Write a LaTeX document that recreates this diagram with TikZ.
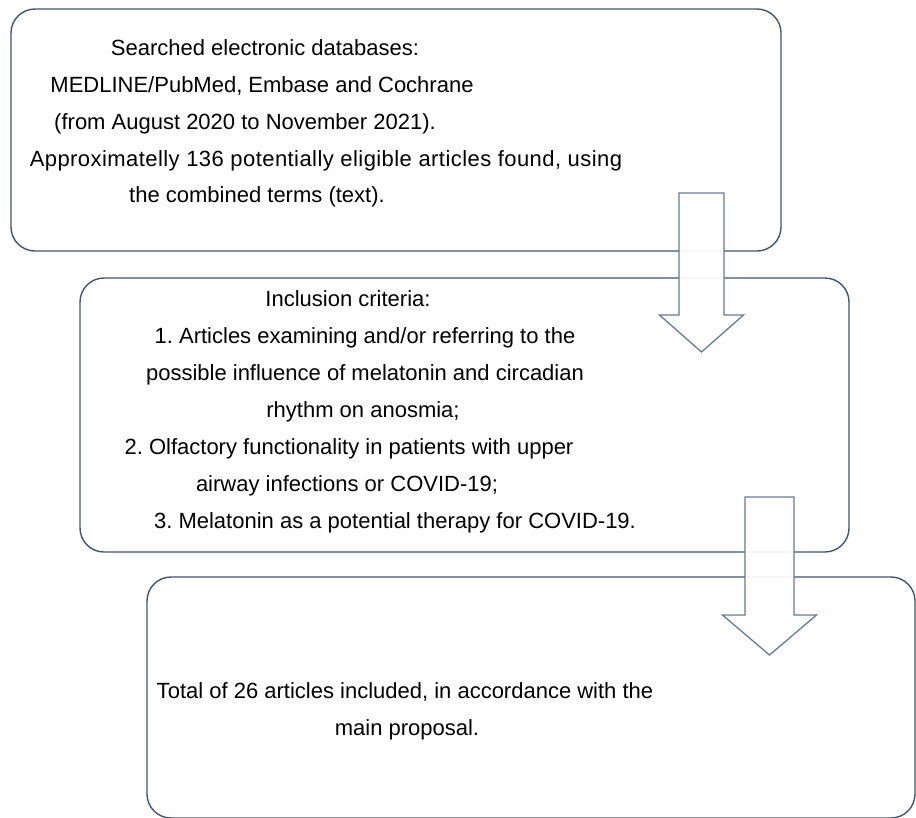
\documentclass[tikz,border=0pt]{standalone}
\usepackage{fontspec}
\setmainfont{Liberation Sans}
\definecolor{boxline}{HTML}{44546A}
\definecolor{arrowline}{HTML}{6B7A90}
\begin{document}
\begin{tikzpicture}
[x=1pt, y=-1pt,
% STYLES
% The box style is used for the three stages
box/.style={draw=boxline, line width=1.4pt, rounded corners=24pt, inner sep=0pt},
% one printed line of text
txt/.style={font=\fontsize{22}{26}\selectfont\frenchspacing, anchor=base, inner sep=0pt},
blockarrow/.style={draw=arrowline, line width=1.3pt, fill=white, fill opacity=0.92}]

\useasboundingbox (0,0) rectangle (916,817);

% Draw stages
\node [box, minimum width=770pt, minimum height=242pt] (search) at (396,130) {};
\node [box, minimum width=769pt, minimum height=274pt] (criteria) at (464.5,415) {};
\node [box, minimum width=768pt, minimum height=241pt] (total) at (531,697.5) {};

% Draw block arrows between the stages
\foreach \cx/\ytop/\yneck/\ytip/\sw/\hw in {701.5/193/315/352/22.5/42, 769.5/497/615/655/24.5/47}
  \draw [blockarrow] (\cx-\sw,\ytop) -- (\cx+\sw,\ytop) -- (\cx+\sw,\yneck) -- (\cx+\hw,\yneck)
    -- (\cx,\ytip) -- (\cx-\hw,\yneck) -- (\cx-\sw,\yneck) -- cycle;

% Text of the stages
\foreach \x/\y/\t [count=\i] in {
  265/55/{Searched electronic databases:},
  262/92/{MEDLINE/PubMed, Embase and Cochrane},
  245/129/{(from August 2020 to November 2021).}}
  \node [txt] (s\i) at (\x,\y) {\t};

\node [txt, font=\fontsize{22}{26}\selectfont\addfontfeature{LetterSpace=2}] (s4) at (326,166)
  {Approximatelly 136 potentially eligible articles found, using};
\node [txt] (s5) at (257,202) {the combined terms (text).};

\foreach \x/\y/\t [count=\i] in {
  348/306/{Inclusion criteria:},
  365/343/{1. Articles examining and/or referring to the},
  365/380/{possible influence of melatonin and circadian},
  363/417/{rhythm on anosmia;},
  349/454/{2. Olfactory functionality in patients with upper},
  347/491/{airway infections or COVID-19;},
  395/528/{3. Melatonin as a potential therapy for COVID-19.}}
  \node [txt] (c\i) at (\x,\y) {\t};

\node [txt] (t1) at (405,698) {Total of 26 articles included, in accordance with the};
\node [txt] (t2) at (407,735) {main proposal.};

\end{tikzpicture}
\end{document}
